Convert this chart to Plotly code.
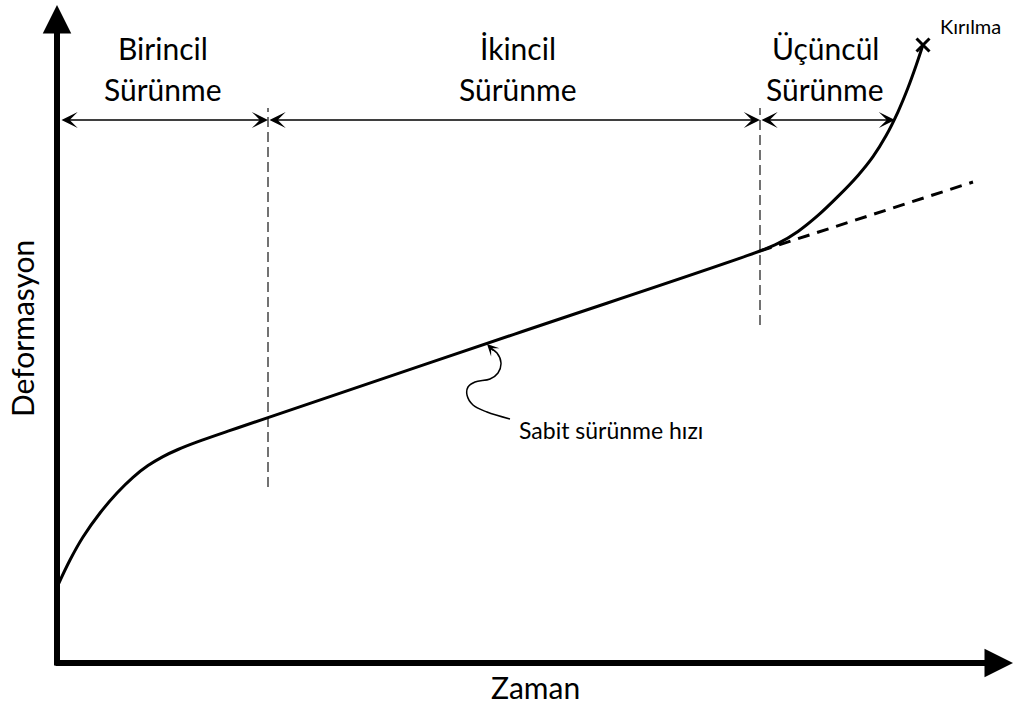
import plotly.graph_objects as go

# ---- data (time / deformation, arbitrary schematic units) ----
curve_t = [0, 12, 25, 42, 59, 75, 90, 105, 120, 140, 170, 210, 456, 702,
           720, 740, 760, 780, 800, 815, 828, 840, 850, 858, 865]
curve_d = [79, 104, 127, 151, 171, 186.7, 198.4, 207.4, 214.5, 222.3, 232.8, 246.4, 329.7, 413,
           420.6, 432.6, 448.6, 467.6, 488.6, 507.4, 528.2, 552.2, 576.2, 598.2, 619.2]

steady_t = [702, 915]
steady_d = [413, 482]

rupture_t = [865]
rupture_d = [619]

stage_bounds = [0, 210, 702, 837]          # stage boundaries on time axis
stage_arrow_d = 544                        # level of the stage arrows
stage_names = [("Birincil", "Sürünme"), ("İkincil", "Sürünme"), ("Üçüncül", "Sürünme")]
stage_label_t = [105, 460, 767]
bound1_d = [177, 556]
bound2_d = [339, 556]

hook_t = [452, 429, 415, 409, 410, 417, 432, 440, 443, 439, 432]
hook_d = [245, 252, 259, 269, 277, 282, 285, 291, 301, 311, 316]

FONT = "Lato"

fig = go.Figure()

# vertical stage dividers
fig.add_trace(go.Scatter(x=[stage_bounds[1]] * 2, y=bound1_d, mode="lines",
                         line=dict(color="#444", width=1.5, dash="10px,5px"), hoverinfo="skip"))
fig.add_trace(go.Scatter(x=[stage_bounds[2]] * 2, y=bound2_d, mode="lines",
                         line=dict(color="#444", width=1.5, dash="10px,5px"), hoverinfo="skip"))
# steady-state extension
fig.add_trace(go.Scatter(x=steady_t, y=steady_d, mode="lines",
                         line=dict(color="black", width=3, dash="12px,8px"), hoverinfo="skip"))
# main creep curve
fig.add_trace(go.Scatter(x=curve_t, y=curve_d, mode="lines",
                         line=dict(color="black", width=3, shape="spline", smoothing=1.0), hoverinfo="skip"))
# rupture mark
fig.add_trace(go.Scatter(x=rupture_t, y=rupture_d, mode="markers",
                         marker=dict(symbol="x-thin", size=13, line=dict(color="black", width=3)), hoverinfo="skip"))
# hook connector
fig.add_trace(go.Scatter(x=hook_t, y=hook_d, mode="lines",
                         line=dict(color="black", width=1.5, shape="spline"), hoverinfo="skip"))

ann = []
# axes arrows
ann.append(dict(x=-1, y=659, ax=-1, ay=-3, xref="x", yref="y", axref="x", ayref="y",
                text="", showarrow=True, arrowhead=2, arrowsize=0.95, arrowwidth=6, arrowcolor="black"))
ann.append(dict(x=955, y=1, ax=-4, ay=1, xref="x", yref="y", axref="x", ayref="y",
                text="", showarrow=True, arrowhead=2, arrowsize=0.95, arrowwidth=6, arrowcolor="black"))
# stage arrows
for a, b in zip(stage_bounds[:-1], stage_bounds[1:]):
    ann.append(dict(x=b, y=stage_arrow_d, ax=a + (2 if a == 0 else 0), ay=stage_arrow_d,
                    xref="x", yref="y", axref="x", ayref="y", text="", showarrow=True,
                    arrowside="end+start", arrowhead=3, startarrowhead=3,
                    arrowsize=1.8, startarrowsize=1.8, arrowwidth=1.5, arrowcolor="black"))
# stage labels
for t, (l1, l2) in zip(stage_label_t, stage_names):
    ann.append(dict(x=t, y=616, xref="x", yref="y", text=l1, showarrow=False,
                    font=dict(family=FONT, size=30, color="black")))
    ann.append(dict(x=t, y=575, xref="x", yref="y", text=l2, showarrow=False,
                    font=dict(family=FONT, size=30, color="black")))
# hook arrow head
ann.append(dict(x=429, y=320, ax=437, ay=312, xref="x", yref="y", axref="x", ayref="y",
                text="", showarrow=True, arrowhead=3, arrowsize=1.3, arrowwidth=1.5, arrowcolor="black"))
ann.append(dict(x=553, y=234, xref="x", yref="y", text="Sabit sürünme hızı", showarrow=False,
                font=dict(family=FONT, size=23, color="black")))
ann.append(dict(x=912, y=638, xref="x", yref="y", text="Kırılma", showarrow=False,
                font=dict(family=FONT, size=20, color="black")))
# axis titles
ann.append(dict(x=477, y=-23, xref="x", yref="y", text="Zaman", showarrow=False,
                font=dict(family=FONT, size=30, color="black")))
ann.append(dict(x=-36, y=335, xref="x", yref="y", text="Deformasyon", showarrow=False, textangle=-90,
                font=dict(family=FONT, size=30, color="black")))

fig.update_layout(
    width=1013, height=709,
    margin=dict(l=0, r=0, t=0, b=0),
    paper_bgcolor="white", plot_bgcolor="white",
    showlegend=False,
    xaxis=dict(range=[-58, 955], visible=False, fixedrange=True),
    yaxis=dict(range=[-45, 664], visible=False, fixedrange=True),
    annotations=ann,
)

fig.write_html("out.html", config={"displayModeBar": False},
               post_script="document.body.style.margin='0';document.body.style.overflow='hidden';")
